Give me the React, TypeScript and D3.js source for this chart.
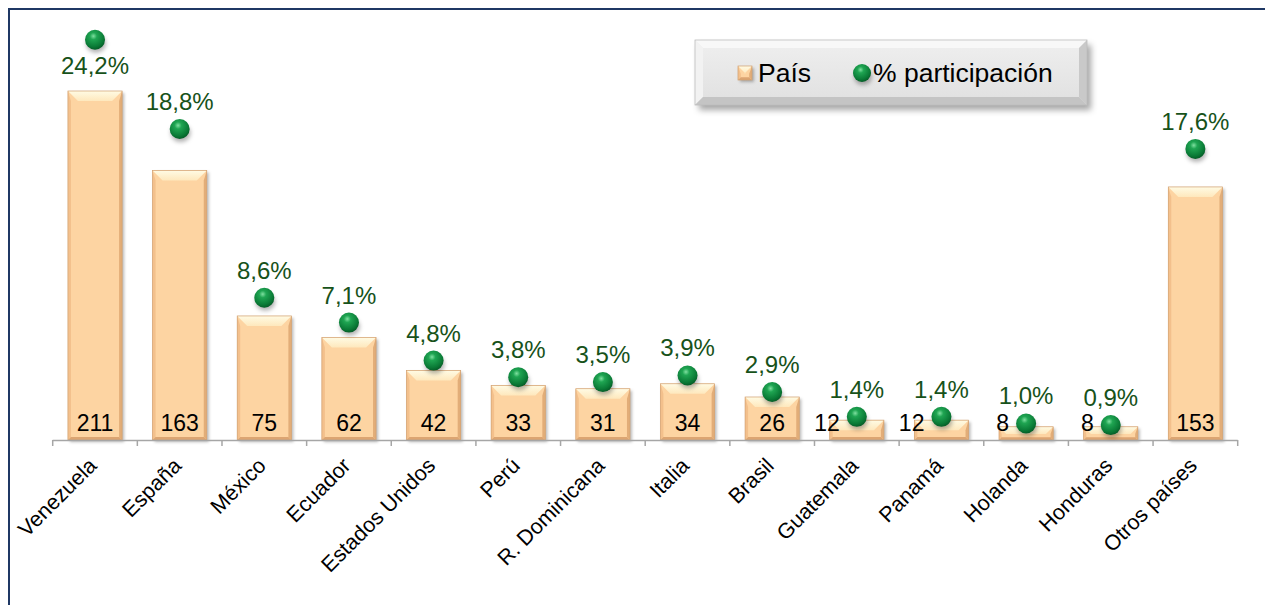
import React from 'react';
import * as d3 from 'd3';

const categories = ["Venezuela", "España", "México", "Ecuador", "Estados Unidos", "Perú", "R. Dominicana", "Italia", "Brasil", "Guatemala", "Panamá", "Holanda", "Honduras", "Otros países"];
const counts = [211, 163, 75, 62, 42, 33, 31, 34, 26, 12, 12, 8, 8, 153];
const shares = [24.2, 18.8, 8.6, 7.1, 4.8, 3.8, 3.5, 3.9, 2.9, 1.4, 1.4, 1.0, 0.9, 17.6];
const legendLabels = ["País", "% participación"];

const W = 1265, H = 605;
const FONT = "'Liberation Sans', Arial, sans-serif";
const BASE = 440;

export default function App() {
  const x = d3.scaleBand<string>().domain(categories).range([52.7, 1237.7]).paddingInner(0.36).paddingOuter(0.18);
  const y = d3.scaleLinear().domain([0, 250]).range([BASE, BASE - 413.5]);
  const y2 = d3.scaleLinear().domain([0, 25]).range([BASE, BASE - 413.5]);
  const step = x.step();
  const bw = x.bandwidth();
  const fmt = (v: number) => d3.format('.1f')(v).replace('.', ',') + '%';

  const bar = (bx: number, by: number, w: number, h: number, key: string) => {
    const t = Math.min(10, h * 0.55);
    const s = Math.min(3, h * 0.2);
    return (
      <g key={key}>
        <rect x={bx + 2} y={by + 2} width={w} height={h} fill="rgba(0,0,0,0.28)" filter="url(#blur2)" />
        <rect x={bx} y={by} width={w} height={h} fill="#fdd4a2" />
        <polygon points={`${bx},${by} ${bx + w},${by} ${bx + w - t},${by + t} ${bx + t},${by + t}`} fill="url(#bevTop)" />
        <polygon points={`${bx},${by} ${bx + s},${by + t} ${bx + s},${by + h - s} ${bx},${by + h}`} fill="#f3c08c" />
        <polygon points={`${bx + w},${by} ${bx + w},${by + h} ${bx + w - s},${by + h - s} ${bx + w - s},${by + t}`} fill="#e2ad78" />
        <polygon points={`${bx},${by + h} ${bx + w},${by + h} ${bx + w - s},${by + h - s} ${bx + s},${by + h - s}`} fill="#dca572" />
        <rect x={bx} y={by} width={w} height={h} fill="none" stroke="#d2a070" strokeWidth={0.7} />
      </g>
    );
  };

  const ball = (cx: number, cy: number, r: number, key: string) => (
    <g key={key}>
      <ellipse cx={cx + 1} cy={cy + 4} rx={r} ry={r * 0.9} fill="rgba(0,0,0,0.3)" filter="url(#blur3)" />
      <circle cx={cx} cy={cy} r={r} fill="url(#ballGrad)" />
    </g>
  );

  return (
    <svg width={W} height={H} style={{ position: 'fixed', left: 0, top: 0, background: '#fff' }} fontFamily={FONT}>
      <defs>
        <filter id="blur2" x="-20%" y="-20%" width="140%" height="140%"><feGaussianBlur stdDeviation="1.5" /></filter>
        <filter id="blur3" x="-50%" y="-50%" width="200%" height="200%"><feGaussianBlur stdDeviation="2" /></filter>
        <filter id="blur4" x="-20%" y="-50%" width="140%" height="200%"><feGaussianBlur stdDeviation="3" /></filter>
        <linearGradient id="bevTop" x1="0" y1="0" x2="0" y2="1">
          <stop offset="0" stopColor="#fffbe4" />
          <stop offset="1" stopColor="#fee8bd" />
        </linearGradient>
        <radialGradient id="ballGrad" cx="0.42" cy="0.32" r="0.7">
          <stop offset="0" stopColor="#7fe0a0" />
          <stop offset="0.25" stopColor="#1fa552" />
          <stop offset="0.75" stopColor="#0a7a36" />
          <stop offset="1" stopColor="#055a26" />
        </radialGradient>
        <linearGradient id="legGrad" x1="0" y1="0" x2="0" y2="1">
          <stop offset="0" stopColor="#efefef" />
          <stop offset="1" stopColor="#e0e0e0" />
        </linearGradient>
      </defs>

      {/* frame */}
      <rect x={9} y={9} width={1300} height={700} fill="none" stroke="#1f3864" strokeWidth={2} />

      {/* bars */}
      {categories.map((c, i) => {
        const bx = x(c)!;
        const by = y(counts[i]);
        return bar(bx, by, bw, BASE - by, 'b' + i);
      })}

      {/* axis */}
      <line x1={x.range()[0]} x2={x.range()[1]} y1={BASE + 0.5} y2={BASE + 0.5} stroke="#a6a6a6" strokeWidth={1.5} />
      {d3.range(categories.length + 1).map(i => {
        const tx = x.range()[0] + i * step;
        return <line key={'t' + i} x1={tx} x2={tx} y1={BASE} y2={BASE + 6} stroke="#a6a6a6" strokeWidth={1.5} />;
      })}

      {/* value labels */}
      {categories.map((c, i) => {
        const cx = x(c)! + bw / 2;
        const small = counts[i] < 20;
        return (
          <text key={'v' + i} x={small ? cx - 17 : cx} y={431} fontSize={23} fill="#000" textAnchor={small ? 'end' : 'middle'}>
            {counts[i]}
          </text>
        );
      })}

      {/* points */}
      {categories.map((c, i) => ball(x(c)! + bw / 2, y2(shares[i]), 10, 'p' + i))}

      {/* share labels */}
      {categories.map((c, i) => {
        const cx = x(c)! + bw / 2;
        const cy = y2(shares[i]);
        const below = cy - 22 < 40;
        return (
          <text key={'s' + i} x={cx} y={below ? cy + 34 : cy - 19} fontSize={24} fill="#17521a" textAnchor="middle">
            {fmt(shares[i])}
          </text>
        );
      })}

      {/* category labels */}
      {categories.map((c, i) => {
        const cx = x(c)! + bw / 2 + 3;
        const cy = 467;
        return (
          <text key={'c' + i} x={cx} y={cy} fontSize={21.5} fill="#000" textAnchor="end" transform={`rotate(-45 ${cx} ${cy})`}>
            {c}
          </text>
        );
      })}

      {/* legend */}
      <g>
        <rect x={699} y={45} width={392} height={65} fill="rgba(0,0,0,0.35)" filter="url(#blur4)" />
        <rect x={695} y={40} width={392} height={65} fill="url(#legGrad)" />
        <polygon points="695,40 1087,40 1079,48 703,48" fill="#f8f8f8" />
        <polygon points="695,40 703,48 703,97 695,105" fill="#f2f2f2" />
        <polygon points="1087,40 1087,105 1079,97 1079,48" fill="#c9c9c9" />
        <polygon points="695,105 1087,105 1079,97 703,97" fill="#c4c4c4" />
        <rect x={695} y={40} width={392} height={65} fill="none" stroke="#bdbdbd" strokeWidth={0.8} />
        {bar(738, 66, 14, 14, 'legbar')}
        <text x={758} y={82} fontSize={26.5} fill="#000">{legendLabels[0]}</text>
        {ball(862, 73, 9, 'legball')}
        <text x={873} y={82} fontSize={26.5} fill="#000">{legendLabels[1]}</text>
      </g>
    </svg>
  );
}
